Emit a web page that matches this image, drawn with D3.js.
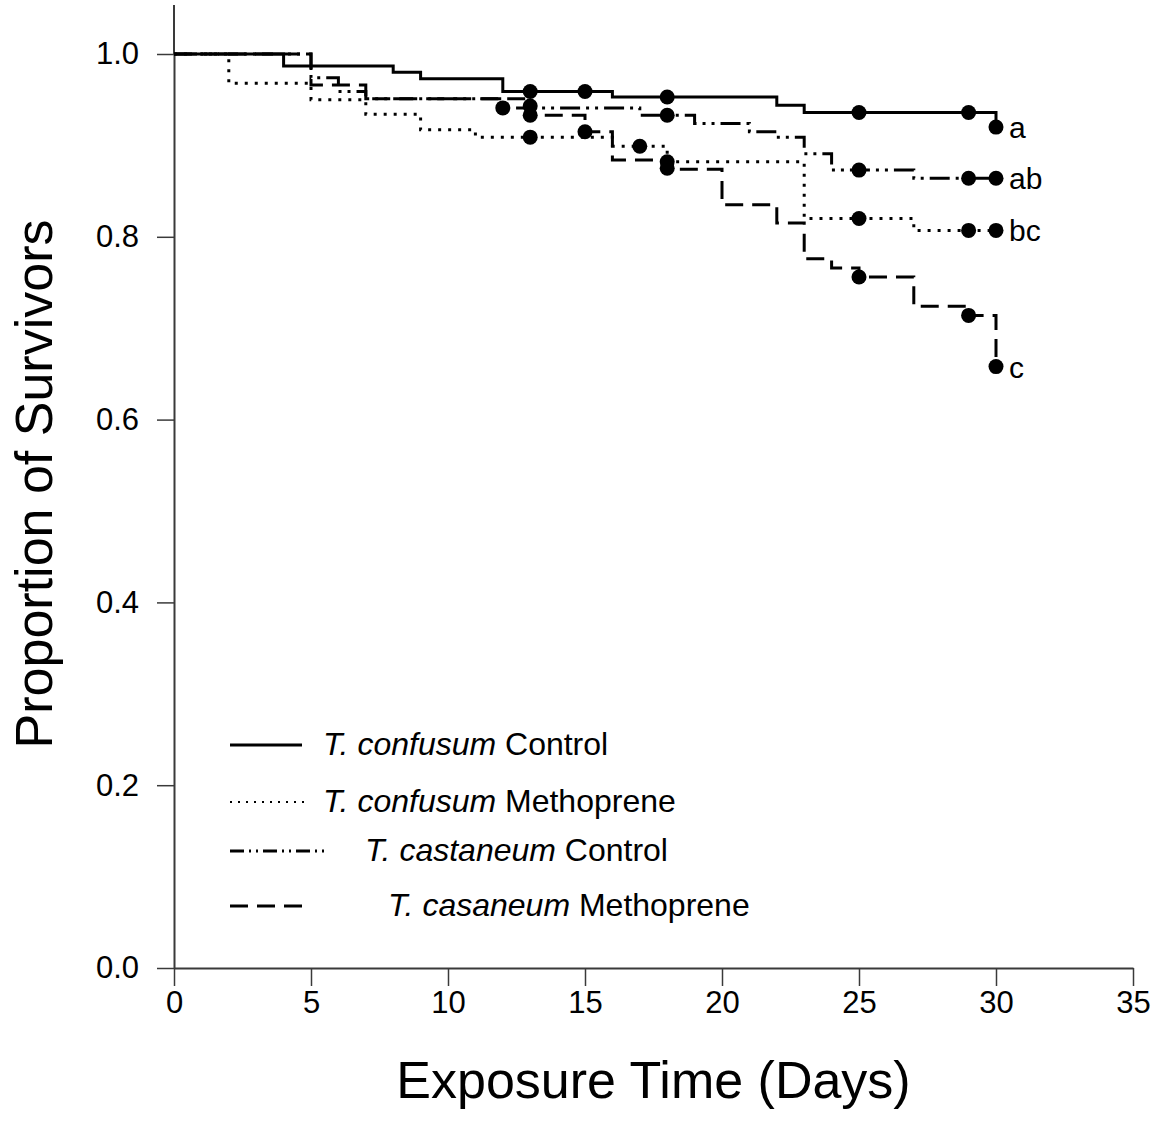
<!DOCTYPE html>
<html>
<head>
<meta charset="utf-8">
<script src="https://cdn.jsdelivr.net/npm/d3@7"></script>
<style>
  body { margin: 0; background: #fff; }
  text { font-family: "Liberation Sans", Arial, sans-serif; fill: #000; }
</style>
</head>
<body>
<div id="chart"></div>
<script>
// step points [day, proportion] for each Kaplan-Meier curve
var confusumControl = [[0,1],[4,0.987],[8,0.980],[9,0.973],[12,0.959],[16,0.953],[22,0.944],[23,0.936],[30,0.920]];
var confusumMethoprene = [[0,1],[2,0.968],[5,0.950],[7,0.934],[9,0.917],[11,0.909],[16,0.899],[18,0.882],[23,0.820],[27,0.807],[30,0.807]];
var castaneumControl = [[0,1],[5,0.974],[6,0.959],[7,0.951],[12,0.941],[17,0.933],[19,0.924],[21,0.915],[22,0.909],[23,0.891],[24,0.873],[27,0.864],[30,0.864]];
var castaneumMethoprene = [[0,1],[5,0.966],[7,0.951],[13,0.933],[15,0.915],[16,0.884],[18,0.874],[20,0.835],[22,0.815],[23,0.776],[24,0.766],[25,0.756],[27,0.724],[29,0.714],[30,0.658]];

// censor marks (filled dots)
var confusumControlDots = [[13,0.959],[15,0.959],[18,0.953],[25,0.936],[29,0.936],[30,0.920]];
var confusumMethopreneDots = [[13,0.909],[17,0.899],[18,0.882],[25,0.820],[29,0.807],[30,0.807]];
var castaneumControlDots = [[12,0.941],[13,0.943],[18,0.933],[25,0.873],[29,0.864],[30,0.864]];
var castaneumMethopreneDots = [[13,0.933],[15,0.915],[18,0.875],[25,0.756],[29,0.714],[30,0.658]];

var letters = ["a", "ab", "bc", "c"];
var legendItalic = ["T. confusum", "T. confusum", "T. castaneum", "T. casaneum"];
var legendRest = [" Control", " Methoprene", " Control", " Methoprene"];

var xTicks = [0, 5, 10, 15, 20, 25, 30, 35];
var yTicks = [0, 0.2, 0.4, 0.6, 0.8, 1.0];

var width = 1165, height = 1131;

var svg = d3.select("#chart").append("svg")
    .attr("width", width)
    .attr("height", height);

var x = d3.scaleLinear().domain([0, 35]).range([174, 1133]);
var y = d3.scaleLinear().domain([0, 1]).range([968, 54]);

var axisColor = "#3a3a3a";

// x axis
var gx = svg.append("g")
    .attr("transform", "translate(0," + y(0) + ")")
    .call(d3.axisBottom(x).tickValues(xTicks).tickSize(18).tickPadding(5).tickSizeOuter(0)
        .tickFormat(d3.format("d")));
gx.select(".domain").attr("stroke", axisColor).attr("stroke-width", 2);
gx.selectAll(".tick line").attr("stroke", axisColor).attr("stroke-width", 1.5);
gx.selectAll(".tick text").style("font-size", "31px").attr("fill", "#000");

// y axis
var gy = svg.append("g")
    .attr("transform", "translate(" + x(0) + ",0)")
    .call(d3.axisLeft(y).tickValues(yTicks).tickSize(17).tickPadding(18).tickSizeOuter(0)
        .tickFormat(d3.format(".1f")));
gy.select(".domain").attr("stroke", axisColor).attr("stroke-width", 2);
gy.selectAll(".tick line").attr("stroke", axisColor).attr("stroke-width", 1.5);
gy.selectAll(".tick text").style("font-size", "31px").attr("fill", "#000");
// axis line runs up past 1.0
svg.append("line")
    .attr("x1", x(0)).attr("x2", x(0))
    .attr("y1", 5).attr("y2", y(1))
    .attr("stroke", axisColor).attr("stroke-width", 2);

// axis titles
svg.append("text")
    .attr("x", x(17.5)).attr("y", 1098)
    .attr("text-anchor", "middle")
    .style("font-size", "52px")
    .text("Exposure Time (Days)");

svg.append("text")
    .attr("transform", "translate(52," + 484 + ") rotate(-90)")
    .attr("text-anchor", "middle")
    .style("font-size", "52px")
    .text("Proportion of Survivors");

var styles = [
  { dash: null },
  { dash: "3,7" },
  { dash: "20,6,3,6,3,6" },
  { dash: "18,9" }
];

var series = [confusumControl, confusumMethoprene, castaneumControl, castaneumMethoprene];
var dots = [confusumControlDots, confusumMethopreneDots, castaneumControlDots, castaneumMethopreneDots];

var line = d3.line()
    .x(function(d) { return x(d[0]); })
    .y(function(d) { return y(d[1]); })
    .curve(d3.curveStepAfter);

var curves = svg.append("g");
// draw back to front so the solid line sits on top
[3, 2, 1, 0].forEach(function(i) {
  curves.append("path")
      .datum(series[i])
      .attr("d", line)
      .attr("fill", "none")
      .attr("stroke", "#000")
      .attr("stroke-width", 3)
      .attr("stroke-dasharray", styles[i].dash);
});

dots.forEach(function(d) {
  svg.append("g").selectAll("circle")
      .data(d)
      .enter().append("circle")
      .attr("cx", function(p) { return x(p[0]); })
      .attr("cy", function(p) { return y(p[1]); })
      .attr("r", 7.5)
      .attr("fill", "#000");
});

// significance letters next to the last dot of each curve
var letterY = [0.920, 0.864, 0.807, 0.658];
letters.forEach(function(l, i) {
  svg.append("text")
      .attr("x", x(30) + 13)
      .attr("y", y(letterY[i]) + 11)
      .style("font-size", "30px")
      .text(l);
});

// legend
var legLineEnd = [302, 310, 328, 302];
var legTextX = [323, 323, 365, 388];
var legRowY = [744, 801, 850, 905];

var legend = svg.append("g");
legendItalic.forEach(function(t, i) {
  legend.append("line")
      .attr("x1", 230).attr("x2", legLineEnd[i])
      .attr("y1", legRowY[i] + 1).attr("y2", legRowY[i] + 1)
      .attr("stroke", "#000")
      .attr("stroke-width", i == 1 ? 2 : 3)
      .attr("stroke-dasharray", i == 1 ? "2,6" : (i == 2 ? "14,5,2,5,2,5" : styles[i].dash));
  var tx = legend.append("text")
      .attr("x", legTextX[i])
      .attr("y", legRowY[i] + 11)
      .style("font-size", "32px");
  tx.append("tspan").style("font-style", "italic").text(t);
  tx.append("tspan").text(legendRest[i]);
});
</script>
</body>
</html>
